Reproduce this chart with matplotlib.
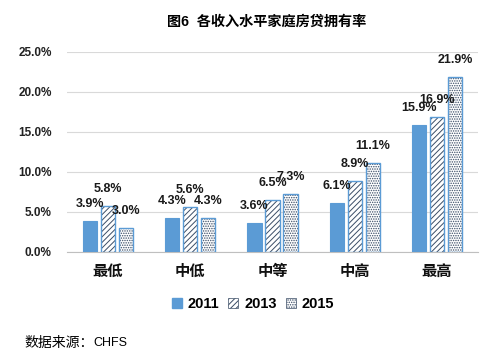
import matplotlib
matplotlib.use("Agg")
import matplotlib.pyplot as plt
import numpy as np
from matplotlib.patches import Patch

plt.rcParams['font.family'] = ['Liberation Sans', 'Noto Sans CJK SC']
plt.rcParams['hatch.linewidth'] = 0.7

categories = ['最低', '中低', '中等', '中高', '最高']
years = ['2011', '2013', '2015']
v2011 = [3.9, 4.3, 3.6, 6.1, 15.9]
v2013 = [5.8, 5.6, 6.5, 8.9, 16.9]
v2015 = [3.0, 4.3, 7.3, 11.1, 21.9]
yticks = [0, 5, 10, 15, 20, 25]

blue = '#5B9BD5'
hatchc = '#3b4d66'
fig = plt.figure(figsize=(4.95, 3.58), dpi=100)
ax = fig.add_axes([67/495, 1-252/358, 411/495, 200/358])

x = np.arange(len(categories))
w = 0.172
gap = 0.219
series = [v2011, v2013, v2015]
hatches = [None, '//////', '.......']
for i, vals in enumerate(series):
    xs = x + (i-1)*gap
    if hatches[i] is None:
        ax.bar(xs, vals, width=w, color=blue, edgecolor=blue, linewidth=0.8,
               zorder=3, label=years[i])
    else:
        ax.bar(xs, vals, width=w, facecolor='white', edgecolor=hatchc, linewidth=0,
               hatch=hatches[i], zorder=3)
        ax.bar(xs, vals, width=w, facecolor='none', edgecolor=blue, linewidth=1.0,
               zorder=3.5)
    for xi, v in zip(xs, vals):
        ax.text(xi, v + 2.1, f'{v:.1f}%', ha='center', va='center',
                fontsize=9, fontweight='bold', color='#1a1a1a', zorder=4)

ax.set_xlim(-0.5, 4.5)
ax.set_ylim(0, 25)
ax.set_yticks(yticks)
ax.set_yticklabels([f'{t:.1f}%' for t in yticks], fontsize=8.5, fontweight='bold', color='#222222')
ax.set_xticks(x)
ax.set_xticklabels(categories, fontsize=11, fontweight='bold', color='#111111')
ax.tick_params(axis='both', length=0)
ax.tick_params(axis='y', pad=11)
ax.tick_params(axis='x', pad=9)
ax.grid(axis='y', color='#d9d9d9', linewidth=0.8, zorder=0)
for s in ['top', 'right', 'left']:
    ax.spines[s].set_visible(False)
ax.spines['bottom'].set_color('#bfbfbf')

lh = [Patch(facecolor=blue, edgecolor=blue, label='2011'),
      Patch(facecolor='white', edgecolor=hatchc, hatch='//////', linewidth=0.5, label='2013'),
      Patch(facecolor='white', edgecolor=hatchc, hatch='.......', linewidth=0.5, label='2015')]
fig.legend(handles=lh, loc='center', bbox_to_anchor=(253/495, 1-304/358), ncol=3,
           frameon=False, prop=dict(size=10.5, weight='bold'),
           handlelength=0.7, handleheight=0.7, handletextpad=0.4, columnspacing=0.6)

fig.text(267/495, 1-22/358, '图6  各收入水平家庭房贷拥有率', ha='center', va='center',
         fontsize=10.2, fontweight='bold')
fig.text(24/495, 1-343/358, '数据来源：', ha='left', va='center', fontsize=10)
fig.text(93/495, 1-343/358, 'CHFS', ha='left', va='center', fontsize=9)

fig.savefig('out.png', dpi=100)
